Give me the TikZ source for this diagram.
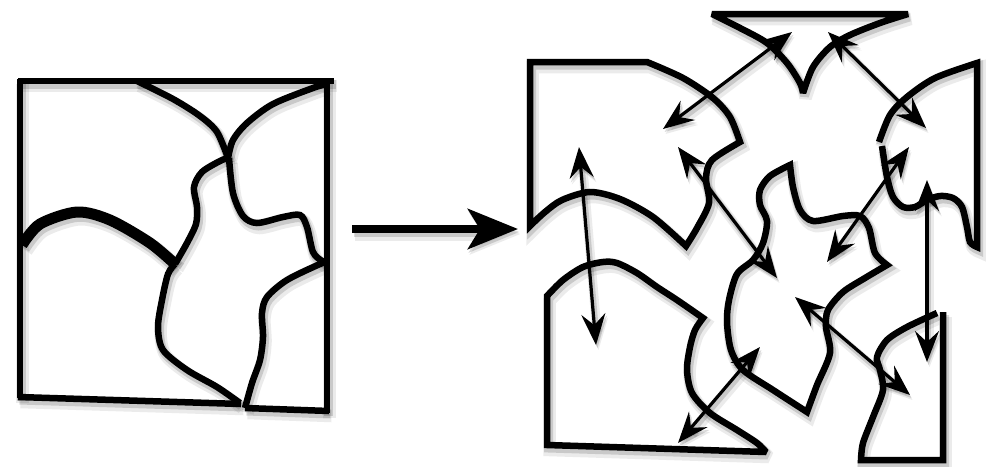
\documentclass[tikz,border=0pt]{standalone}
\usetikzlibrary{arrows.meta}
\tikzset{
  link/.style={{Stealth[length=31pt,width=24pt,inset=11pt]}-{Stealth[length=31pt,width=24pt,inset=11pt]}},
  bigarrow/.style={-{Stealth[length=50pt,width=40pt,inset=12pt]}},
  sharp/.style={miter limit=2},
  shadowA/.style={draw=black, opacity=0.08, transform canvas={shift={(2.5pt,-5pt)}}},
  shadowB/.style={draw=black, opacity=0.14, transform canvas={shift={(1.5pt,-3pt)}}},
}
\newcommand\shd[3]{%
  \draw[#2,shadowA,line width=#1pt+6pt]#3;
  \draw[#2,shadowB,line width=#1pt+2.5pt]#3;
  \draw[#2,line width=#1pt]#3;}
\begin{document}
\begin{tikzpicture}[x=1pt,y=-1pt]
\fill[white] (0,0) rectangle (998,466);
\useasboundingbox (0,0) rectangle (998,466);

% ---------- left square ----------
\shd{6.5}{}{(18,81) -- (334,81)}
\shd{6.5}{}{(20,79) -- (20,398)}
\shd{6.5}{}{(18,397) -- (241,404)}
\shd{6.5}{}{(245,408) -- (329,411)}
\shd{6.5}{}{(327,79) -- (327,413)}
\shd{6.5}{}{plot[smooth] coordinates {(137,81) (173,99) (200,116) (217,132) (228,158)}}
\shd{6.5}{}{plot[smooth] coordinates {(327,84) (313,88) (273,104) (247,123) (233,140) (228,158)}}
\shd{6.5}{}{plot[smooth] coordinates {(228,158) (220,161) (202,172) (194,187) (197,207) (196,224) (187,243) (175,264)}}
\shd{11}{}{plot[smooth] coordinates {(22,245) (40,224) (77,212) (110,220) (150,243) (176,265)}}
\shd{6.5}{}{plot[smooth] coordinates {(229,158) (233,193) (243,216) (257,223) (283,217) (300,215) (307,227) (313,252) (322,261) (327,262)}}
\shd{6.5}{}{plot[smooth] coordinates {(175,264) (168,274) (162,300) (158,327) (163,350) (187,370) (217,387) (240,403)}}
\shd{6.5}{}{plot[smooth] coordinates {(327,262) (320,264) (287,280) (267,297) (262,313) (263,337) (260,360) (252,383) (245,408)}}

% ---------- big arrow ----------
\coordinate (bs) at (352,229);
\coordinate (be) at (518,229);
\shd{8}{bigarrow}{(bs) -- (be)}

% ---------- right pieces ----------
% A
\shd{6.5}{}{(647,62) -- (530,62) -- (530,226) -- plot[smooth] coordinates {(530,226) (545,212) (562,200) (590,192) (620,199) (653,217) (686,246)} -- plot[smooth] coordinates {(686,246) (697,228) (709,203) (706,178) (712,160) (740,142)} -- plot[smooth] coordinates {(740,142) (730,117) (713,98) (683,78) (647,62)} -- cycle}
% B
\shd{6.5}{sharp}{plot[smooth] coordinates {(712,14) (740,28) (767,43) (787,63) (800,83) (803,93)} -- plot[smooth] coordinates {(803,93) (813,67) (830,47) (850,35) (880,23) (908,14)} -- cycle}
% C
\shd{6.5}{}{plot[smooth] coordinates {(879,142) (890,115) (907,97) (935,78) (977,63)} -- (977,247) -- plot[smooth] coordinates {(977,247) (970,242) (967,227) (962,207) (953,198) (940,196) (927,200) (915,207) (903,207) (893,197) (887,177) (882,146)}}
% D
\shd{6.5}{}{plot[smooth] coordinates {(790,165) (770,176) (760,190) (760,205) (767,221) (763,243) (753,260) (737,274) (729,300) (727,322) (731,350) (743,370) (773,390) (807,412)} -- plot[smooth] coordinates {(807,412) (817,385) (830,353) (826,327) (828,310) (843,292) (865,278) (887,265)} -- plot[smooth] coordinates {(887,265) (875,253) (869,228) (860,216) (843,216) (813,221) (800,210) (793,187) (790,165)} -- cycle}
% E
\shd{6.5}{sharp}{(547,296) -- (547,445) -- (766,452) -- plot[smooth] coordinates {(766,452) (757,443) (737,430) (710,413) (692,393) (687,370) (690,347) (695,330) (703,318)} -- plot[smooth] coordinates {(703,318) (677,300) (657,287) (637,273) (617,263) (603,262) (583,267) (563,280) (547,296)} -- cycle}
% F
\shd{6.5}{}{plot[smooth] coordinates {(937,313) (907,327) (887,340) (877,357) (880,370) (883,390) (873,417) (863,443) (861,460)} -- (943,460) -- (943,312)}

% ---------- links ----------
\coordinate (p1) at (663,129); \coordinate (q1) at (792,32);
\coordinate (p2) at (828,32);  \coordinate (q2) at (926,128);
\coordinate (p3) at (678,147); \coordinate (q3) at (777,278);
\coordinate (p4) at (579,147); \coordinate (q4) at (596,345);
\coordinate (p5) at (827,262); \coordinate (q5) at (909,147);
\coordinate (p6) at (927,180); \coordinate (q6) at (927,362);
\coordinate (p7) at (795,297); \coordinate (q7) at (910,395);
\coordinate (p8) at (678,443); \coordinate (q8) at (760,347);
\shd{3.2}{link}{(p1) -- (q1)}
\shd{3.2}{link}{(p2) -- (q2)}
\shd{3.2}{link}{(p3) -- (q3)}
\shd{3.2}{link}{(p4) -- (q4)}
\shd{3.2}{link}{(p5) -- (q5)}
\shd{3.2}{link}{(p6) -- (q6)}
\shd{3.2}{link}{(p7) -- (q7)}
\shd{3.2}{link}{(p8) -- (q8)}
\end{tikzpicture}
\end{document}
